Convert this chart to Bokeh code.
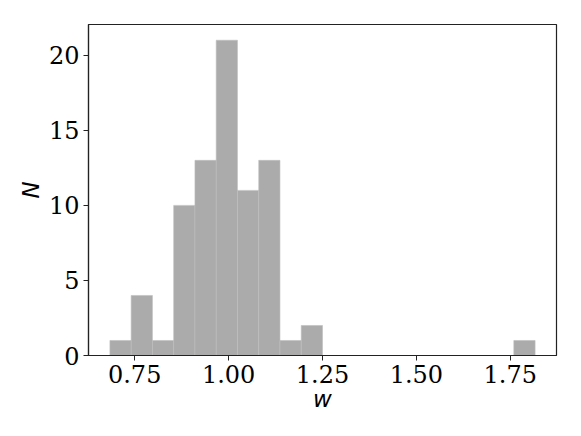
from bokeh.plotting import figure
from bokeh.models import FixedTicker, NumeralTickFormatter, Range1d
from bokeh.embed import file_html
from bokeh.resources import INLINE

bin_edges = [0.684, 0.7406, 0.7972, 0.8538, 0.9104, 0.967, 1.0236, 1.0802, 1.1368,
             1.1934, 1.25, 1.3066, 1.3632, 1.4198, 1.4764, 1.533, 1.5896, 1.6462,
             1.7028, 1.7594, 1.816]
counts = [1, 4, 1, 10, 13, 21, 11, 13, 1, 2, 0, 0, 0, 0, 0, 0, 0, 0, 0, 1]
x_ticks = [0.75, 1.00, 1.25, 1.50, 1.75]
y_ticks = [0, 5, 10, 15, 20]

p = figure(width=565, height=420, output_backend="svg", toolbar_location=None,
           x_range=Range1d(0.627, 1.873), y_range=Range1d(0, 22.05),
           min_border_left=88, min_border_right=9, min_border_top=24, min_border_bottom=65)

p.quad(left=bin_edges[:-1], right=bin_edges[1:], bottom=0, top=counts,
       fill_color="#ababab", line_color="#bdbdbd", line_width=0.6)

p.grid.visible = False
p.outline_line_color = "#222222"
p.outline_line_width = 1.2
p.background_fill_color = "white"
p.border_fill_color = "white"

p.xaxis.ticker = FixedTicker(ticks=x_ticks)
p.xaxis.formatter = NumeralTickFormatter(format="0.00")
p.yaxis.ticker = FixedTicker(ticks=y_ticks)

for ax in (p.xaxis[0], p.yaxis[0]):
    ax.major_label_text_font = "DejaVu Serif"
    ax.major_label_text_font_size = "24px"
    ax.major_label_text_color = "black"
    ax.axis_line_color = "#222222"
    ax.axis_line_width = 1.2
    ax.major_tick_line_color = "#222222"
    ax.major_tick_out = 5
    ax.major_tick_in = 0
    ax.minor_tick_out = 0
    ax.minor_tick_in = 0
    ax.axis_label_text_font = "DejaVu Sans"
    ax.axis_label_text_font_style = "italic"
    ax.axis_label_text_font_size = "23px"
    ax.axis_label_text_color = "black"
    ax.major_label_standoff = 4

p.xaxis.axis_label = "w"
p.yaxis.axis_label = "N"
p.xaxis.axis_label_standoff = 0
p.yaxis.axis_label_standoff = 2

open("out.html", "w").write(file_html(p, INLINE))
